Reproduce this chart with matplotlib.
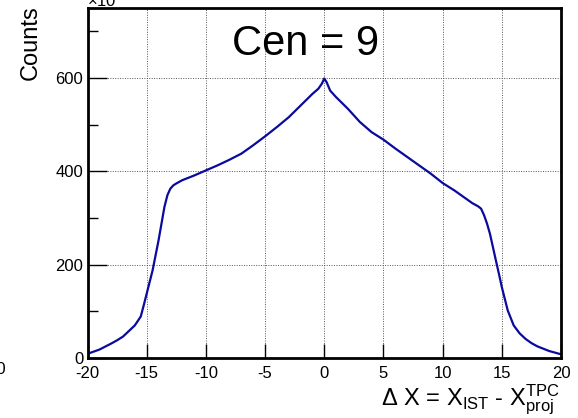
import numpy as np
import matplotlib
matplotlib.use("Agg")
import matplotlib.pyplot as plt

# residual distribution, counts in units of 10^3
dx = [-20, -19, -18, -17.5, -17, -16.5, -16, -15.5, -15.25, -15, -14.75, -14.5, -14,
      -13.5, -13.25, -13, -12.75, -12.5, -12,
      -11, -10, -9, -8, -7, -6, -5, -4, -3, -2, -1, -0.5, -0.2, 0,
      0.2, 0.5, 1, 2, 3, 4, 5, 6, 7, 8, 9, 10, 11, 12, 12.5, 13, 13.25, 13.5,
      13.75, 14, 14.5, 14.75, 15, 15.25, 15.5, 16, 16.5, 17, 17.5, 18, 19, 20]
counts = [9, 18, 31, 38, 46, 58, 70, 89, 113, 138, 163, 188, 252,
          324, 349, 363, 370, 374, 381,
          391, 402, 413, 425, 438, 456, 475, 495, 516, 541, 566, 577, 588, 599,
          591, 573, 559, 534, 506, 484, 468, 449, 431, 413, 395, 375, 359, 341, 332, 325, 320, 306,
          288, 266, 209, 181, 152, 127, 102, 70, 53, 41, 32, 25, 15, 8]

xticks = [-20, -15, -10, -5, 0, 5, 10, 15, 20]
yticks = [0, 200, 400, 600]

plt.rcParams['font.family'] = ['Liberation Sans', 'DejaVu Sans']
plt.rcParams['mathtext.fontset'] = 'custom'
plt.rcParams['mathtext.rm'] = 'Liberation Sans'
plt.rcParams['mathtext.it'] = 'Liberation Sans'

fig = plt.figure(figsize=(5.78, 4.18), dpi=100)
ax = fig.add_axes([0.1514, 0.1435, 0.8192, 0.8373])

ax.plot(dx, counts, color='#0a0a9e', lw=1.6)

ax.set_xlim(-20, 20)
ax.set_ylim(0, 750)
ax.set_xticks(xticks)
ax.set_xticklabels([str(t) for t in xticks])
ax.set_yticks(yticks)
ax.set_yticks([100, 300, 500, 700], minor=True)
ax.tick_params(axis='both', which='major', direction='in', labelsize=12, width=1)
ax.tick_params(axis='y', which='major', length=14, pad=3)
ax.tick_params(axis='x', which='major', length=10, pad=6)
ax.tick_params(axis='y', which='minor', direction='in', length=7, width=1)
ax.grid(True, which='major', color='#555555', linestyle=(0, (1, 1.5)), lw=0.7)
for s in ax.spines.values():
    s.set_linewidth(2)

ax.text(0.461, 0.955, 'Cen = 9', transform=ax.transAxes, ha='center', va='top', fontsize=30)

fig.text(0.054, 0.988, 'Counts', rotation=90, ha='center', va='top', fontsize=17)
fig.text(0.968, 0.03, r'$\Delta$ X = X$_{\rm IST}$ - X$_{\rm proj}^{\rm TPC}$',
         ha='right', va='baseline', fontsize=17)

# clipped bits from neighbouring pads
fig.text(0.15, 1 - 6 / 418, r'×10$^{3}$', ha='left', va='baseline', fontsize=12)
fig.text(6 / 578, (418 - 370) / 418, '20', ha='right', va='center', fontsize=12)

fig.savefig('out.png', dpi=100)
